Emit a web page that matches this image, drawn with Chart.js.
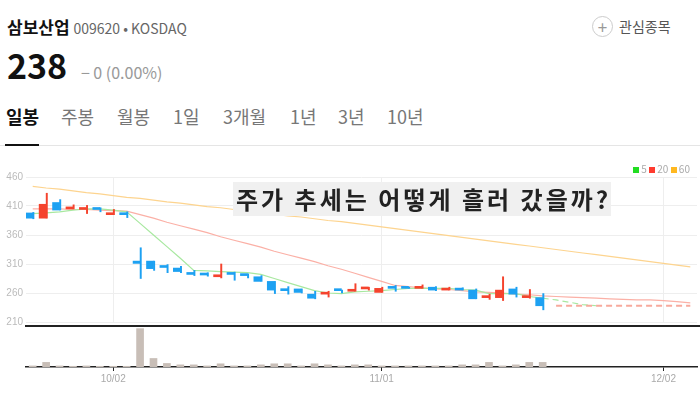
<!DOCTYPE html>
<html><head><meta charset="utf-8">
<script src="https://cdn.jsdelivr.net/npm/chart.js@4"></script>
<style>
body{margin:0;width:700px;height:400px;overflow:hidden;background:#fff;font-family:"Noto Sans CJK KR","Noto Sans",sans-serif;position:relative}
.a{position:absolute;white-space:nowrap}
.tab{position:absolute;top:103px;font-size:18px;color:#777}
</style></head><body>
<div class="a" style="left:7px;top:14px;font-size:17px;font-weight:bold;color:#111">삼보산업 <span style="font-weight:normal;font-size:14px;color:#666">009620 • KOSDAQ</span></div>
<div class="a" style="left:7px;top:40px;font-size:34px;font-weight:bold;color:#111">238 <span style="font-weight:normal;font-size:16px;color:#999;margin-left:6px">− 0 (0.00%)</span></div>
<div class="a" style="left:592px;top:16px;width:19px;height:19px;border:1px solid #ccc;border-radius:50%;color:#999;text-align:center;line-height:19px;font-size:17px">+</div>
<div class="a" style="left:619px;top:16px;font-size:14px;color:#555">관심종목</div>
<div class="tab" style="left:6px;color:#111;font-weight:bold">일봉</div>
<div class="tab" style="left:61px">주봉</div>
<div class="tab" style="left:117px">월봉</div>
<div class="tab" style="left:173px">1일</div>
<div class="tab" style="left:223px">3개월</div>
<div class="tab" style="left:290px">1년</div>
<div class="tab" style="left:338px">3년</div>
<div class="tab" style="left:387px">10년</div>
<div class="a" style="left:0;top:145px;width:700px;height:1px;background:#e5e5e5"></div>
<div class="a" style="left:5px;top:144px;width:34px;height:2px;background:#111"></div>
<canvas id="price" class="a" width="700" height="175" style="left:0;top:156px"></canvas>
<canvas id="vol" class="a" width="700" height="63" style="left:0;top:324px"></canvas>
<div class="a" style="left:25px;top:325px;width:675px;height:2px;background:#222"></div>
<div class="a" style="left:233px;top:182px;width:375px;height:34px;background:#f0f0f0;font-size:24px;font-weight:bold;color:#222;line-height:34px;padding-left:3px;letter-spacing:3px">주가 추세는 어떻게 흘러 갔을까?</div>
<div class="a" style="left:633px;top:161px;font-size:10px;color:#aaa"><span style="display:inline-block;width:6px;height:6px;background:#22dd22"></span> 5 <span style="display:inline-block;width:6px;height:6px;background:#ff3b2f"></span> 20 <span style="display:inline-block;width:6px;height:6px;background:#ffb820"></span> 60</div>
<script>
const dates = [];
for (let i = 0; i < 50; i++) dates.push('');
dates[6] = '10/02'; dates[26] = '11/01'; dates[47] = '12/02';
const opens  = [398,389,416,405,404,405,395,396,315,315,305,303,295,292,288,293,293,288,280,265,267,258,258,265,263,267,261,269,270,268,270,265,268,265,252,252,267,252,252];
const highs  = [399,432,421,412,411,407,404,400,338,315,309,306,299,295,310,296,293,290,280,271,267,263,263,265,276,270,270,273,270,274,271,270,269,267,258,288,270,266,259];
const lows   = [388,389,403,405,397,400,395,390,285,299,295,295,290,289,286,282,286,280,259,258,260,250,253,260,263,265,261,263,268,268,264,265,265,250,249,247,253,251,231];
const closes = [389,413,403,407,405,404,396,395,311,302,304,297,292,291,291,292,290,280,265,264,261,251,260,264,264,268,268,268,268,270,265,267,265,250,253,265,258,253,238];
const volumes = [3,13,3,2,3,2,2,2,108,24,10,6,6,3,9,3,3,6,9,9,3,9,6,3,6,6,3,3,3,3,3,3,6,6,13,3,6,13,13].map(v => v * 1000);
const ma5  = [397,398,400,403,405,405,403,400,380,360,340,320,299,298,297,296,295,292,285,278,271,264,260,259,262,263,264,266,268,268,268,268,266,265,259,259,259,254,251,248,244,240,238];
const ma20 = [405,405,405,404,404,403,402,401,395,389,382,376,370,364,357,351,345,339,332,326,320,314,307,301,294,287,280,273,271,269,267,266,264,262,261,260,258,257,255,254,253,252,251,250,249,248,248,247,245,243];
const ma60 = [444,441,439,436,433,431,428,425,423,420,417,415,412,409,407,404,401,399,396,393,391,388,385,383,380,377,374,371,368,365,362,359,356,353,350,347,344,341,338,335,332,329,326,323,320,317,314,311,308,305];

const RED = '#f5432d', BLUE = '#1da1f2';
const cols = opens.map((o, i) => closes[i] >= o ? RED : BLUE);
const pts = arr => arr.map((y, x) => ({x, y}));
const last = closes[closes.length - 1];
const lastLine = [39, 49].map(x => ({x, y: last}));
const dateTicks = s => { s.ticks = [6, 26, 47].map(v => ({value: v})); };

new Chart(document.getElementById('price'), {
  data: {
    datasets: [
      {type: 'line', data: pts(ma60), borderColor: '#fdd48f', borderWidth: 1.2, pointRadius: 0, order: 5},
      {type: 'line', data: pts(ma20), borderColor: '#fbb0a6', borderWidth: 1.2, pointRadius: 0, order: 5},
      {type: 'line', data: pts(ma5), borderColor: '#a8e8a0', borderWidth: 1.2, pointRadius: 0, order: 4,
        segment: {borderDash: c => c.p0DataIndex >= 38 ? [6, 4] : undefined}},
      {type: 'line', data: lastLine, borderColor: '#f7a99c', borderWidth: 2, borderDash: [6, 4], pointRadius: 0, order: 3},
      {type: 'bar', data: lows.map((l, i) => ({x: i, y: [l, highs[i]]})), backgroundColor: cols, barThickness: 1.3, order: 2},
      {type: 'bar', data: opens.map((o, i) => ({x: i, y: [o, closes[i]]})), backgroundColor: cols, barThickness: 7, minBarLength: 2, order: 1}
    ]
  },
  options: {
    responsive: false, animation: false, events: [],
    layout: {padding: {top: 21, right: 3, bottom: 0}},
    plugins: {legend: {display: false}, tooltip: {enabled: false}},
    scales: {
      x: {type: 'linear', min: -0.5, max: 49.5, offset: false, afterBuildTicks: dateTicks,
        ticks: {display: false}, border: {display: false},
        grid: {color: '#eee', drawTicks: false, offset: false}},
      y: {min: 210, max: 460, afterFit: s => { s.width = 26; },
        ticks: {stepSize: 50, color: '#bbb', font: {size: 10}, padding: 3},
        border: {display: false}, grid: {color: '#eee', drawTicks: false}}
    }
  }
});

new Chart(document.getElementById('vol'), {
  type: 'bar',
  data: {datasets: [{data: volumes.map((v, i) => ({x: i, y: v})), backgroundColor: '#c8beb7', barThickness: 7}]},
  options: {
    responsive: false, animation: false, events: [],
    layout: {padding: {left: 26, right: 3, top: 0}},
    plugins: {legend: {display: false}, tooltip: {enabled: false}},
    scales: {
      x: {type: 'linear', min: -0.5, max: 49.5, offset: false, afterBuildTicks: dateTicks,
        ticks: {color: '#aaa', font: {size: 10}, padding: 2, callback: v => dates[v]},
        border: {color: '#222', width: 1.5},
        grid: {drawOnChartArea: false, color: '#222', tickLength: 4, offset: false}},
      y: {display: false, min: 0, max: 121000}
    }
  }
});
</script>
</body></html>
